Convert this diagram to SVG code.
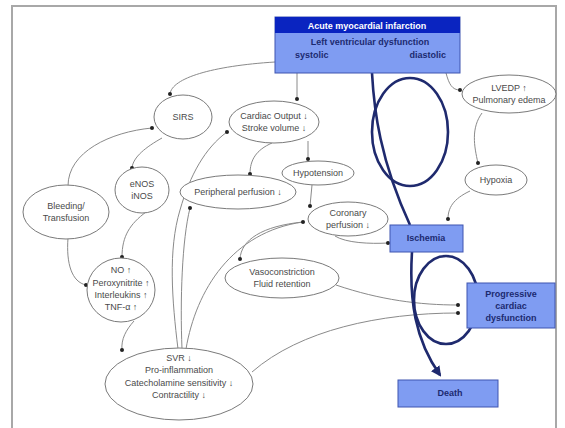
<svg xmlns="http://www.w3.org/2000/svg" width="565" height="428" viewBox="0 0 565 428">
  <style>
    .frame { fill: none; stroke: #a8a8a8; stroke-width: 2; }
    .node ellipse { fill: #ffffff; stroke: #7a7a7a; stroke-width: 1; }
    .node text { font-family: "Liberation Sans", Arial, sans-serif; font-size: 9px; fill: #4a4a4a; text-anchor: middle; }
    .box rect { fill: #7f9cf2; stroke: #3f55b0; stroke-width: 1; }
    .box text { font-family: "Liberation Sans", Arial, sans-serif; font-size: 9px; font-weight: bold; fill: #1c2a70; text-anchor: middle; }
    .box rect.header { fill: #0a24c0; stroke: none; }
    .box text.title { fill: #ffffff; }
    .box text.left { text-anchor: start; }
    .box text.right { text-anchor: end; }
    .link { fill: none; stroke: #8a8a8a; stroke-width: 1; }
    .dot { fill: #222; }
    .flow { fill: none; stroke: #1f2a6e; stroke-width: 2.6; }
  </style>
  <defs>
    <marker id="navyArrow" viewBox="0 0 10 10" refX="8" refY="5" markerWidth="4" markerHeight="4" orient="auto">
      <path d="M0,0 L10,5 L0,10 z" fill="#1f2a6e"/>
    </marker>
  </defs>

  <rect width="565" height="428" fill="#ffffff"/>
  <rect class="frame" x="12" y="6" width="544" height="430"/>

  <!-- thin grey connectors with dot ends -->
  <g id="connectors">
    <path class="link" d="M275,62 C212,66 172,78 170,94"/>
    <path class="link" d="M297,73 L297,99"/>
    <path class="link" d="M446,73 C449,84 452,90 460,90"/>
    <path class="link" d="M482,113 C471,128 474,146 478,163"/>
    <path class="link" d="M470,191 C453,199 448,208 448,219"/>
    <path class="link" d="M68,186 C68,152 110,132 152,128"/>
    <path class="link" d="M162,138 C146,147 133,157 132,168"/>
    <path class="link" d="M68,238 C66,264 72,282 86,285"/>
    <path class="link" d="M146,212 C130,224 122,236 122,257"/>
    <path class="link" d="M134,321 C126,330 121,339 122,350"/>
    <path class="link" d="M178,349 C172,300 168,250 180,210 C190,175 205,148 227,132"/>
    <path class="link" d="M182,349 C180,300 182,240 190,208"/>
    <path class="link" d="M186,349 C196,290 232,232 303,222"/>
    <path class="link" d="M272,143 C256,150 250,160 250,174"/>
    <path class="link" d="M308,141 L308,159"/>
    <path class="link" d="M312,185 L310,206"/>
    <path class="link" d="M303,222 C262,226 241,240 240,259"/>
    <path class="link" d="M335,236 C346,243 370,244 388,243"/>
    <path class="link" d="M336,285 C380,300 420,305 458,305"/>
    <path class="link" d="M252,372 C300,330 380,313 458,313"/>

    <g class="dots">
      <circle class="dot" cx="170" cy="94" r="2"/>
      <circle class="dot" cx="297" cy="99" r="2"/>
      <circle class="dot" cx="460" cy="90" r="2"/>
      <circle class="dot" cx="478" cy="163" r="2"/>
      <circle class="dot" cx="448" cy="219" r="2"/>
      <circle class="dot" cx="152" cy="128" r="2"/>
      <circle class="dot" cx="132" cy="168" r="2"/>
      <circle class="dot" cx="86" cy="285" r="2"/>
      <circle class="dot" cx="122" cy="257" r="2"/>
      <circle class="dot" cx="122" cy="350" r="2"/>
      <circle class="dot" cx="227" cy="132" r="2"/>
      <circle class="dot" cx="190" cy="208" r="2"/>
      <circle class="dot" cx="303" cy="222" r="2"/>
      <circle class="dot" cx="250" cy="174" r="2"/>
      <circle class="dot" cx="308" cy="159" r="2"/>
      <circle class="dot" cx="310" cy="206" r="2"/>
      <circle class="dot" cx="240" cy="259" r="2"/>
      <circle class="dot" cx="388" cy="243" r="2"/>
      <circle class="dot" cx="458" cy="305" r="2"/>
      <circle class="dot" cx="458" cy="313" r="2"/>
    </g>
  </g>

  <!-- oval nodes -->
  <g id="sirs" class="node">
    <ellipse cx="183" cy="117" rx="29" ry="22"/>
    <text x="183" y="120">SIRS</text>
  </g>
  <g id="cardiac-output" class="node">
    <ellipse cx="274" cy="122" rx="45" ry="21"/>
    <text x="274" y="119">Cardiac Output ↓</text>
    <text x="274" y="131">Stroke volume ↓</text>
  </g>
  <g id="hypotension" class="node">
    <ellipse cx="318" cy="173" rx="36" ry="12"/>
    <text x="318" y="176">Hypotension</text>
  </g>
  <g id="peripheral-perfusion" class="node">
    <ellipse cx="238" cy="192" rx="58" ry="17"/>
    <text x="238" y="195">Peripheral perfusion ↓</text>
  </g>
  <g id="coronary-perfusion" class="node">
    <ellipse cx="348" cy="219" rx="40" ry="17"/>
    <text x="348" y="216">Coronary</text>
    <text x="348" y="228">perfusion ↓</text>
  </g>
  <g id="vasoconstriction" class="node">
    <ellipse cx="282" cy="278" rx="57" ry="20"/>
    <text x="282" y="275">Vasoconstriction</text>
    <text x="282" y="287">Fluid retention</text>
  </g>
  <g id="nos" class="node">
    <ellipse cx="142" cy="190" rx="27" ry="23"/>
    <text x="142" y="187">eNOS</text>
    <text x="142" y="199">iNOS</text>
  </g>
  <g id="bleeding" class="node">
    <ellipse cx="66" cy="212" rx="43" ry="27"/>
    <text x="66" y="209">Bleeding/</text>
    <text x="66" y="221">Transfusion</text>
  </g>
  <g id="mediators" class="node">
    <ellipse cx="121" cy="290" rx="34" ry="32"/>
    <text x="121" y="273">NO ↑</text>
    <text x="121" y="286">Peroxynitrite ↑</text>
    <text x="121" y="298">Interleukins ↑</text>
    <text x="121" y="310">TNF-α ↑</text>
  </g>
  <g id="svr" class="node">
    <ellipse cx="179" cy="384" rx="74" ry="36"/>
    <text x="179" y="361">SVR ↓</text>
    <text x="179" y="373">Pro-inflammation</text>
    <text x="179" y="386">Catecholamine sensitivity ↓</text>
    <text x="179" y="398">Contractility ↓</text>
  </g>
  <g id="lvedp" class="node">
    <ellipse cx="509" cy="94" rx="47" ry="19"/>
    <text x="509" y="91">LVEDP ↑</text>
    <text x="509" y="103">Pulmonary edema</text>
  </g>
  <g id="hypoxia" class="node">
    <ellipse cx="496" cy="180" rx="31" ry="15"/>
    <text x="496" y="183">Hypoxia</text>
  </g>

  <!-- heavy navy spiral of the downward course -->
  <g id="spiral">
    <path class="flow" d="M372,73 C374,110 380,160 410,225"/>
    <ellipse class="flow" cx="410" cy="132" rx="38" ry="54"/>
    <ellipse class="flow" cx="446" cy="300" rx="32" ry="44"/>
    <path class="flow" d="M412,252 C409,300 415,340 440,375" marker-end="url(#navyArrow)"/>
  </g>

  <!-- blue boxes -->
  <g id="ami" class="box">
    <rect x="275" y="17" width="185" height="56"/>
    <rect class="header" x="275" y="17" width="185" height="16"/>
    <text class="title" x="367" y="29">Acute myocardial  infarction</text>
    <text x="370" y="45">Left ventricular dysfunction</text>
    <text class="left" x="295" y="58">systolic</text>
    <text class="right" x="446" y="58">diastolic</text>
  </g>
  <g id="ischemia" class="box">
    <rect x="390" y="225" width="73" height="27"/>
    <text x="426" y="241">Ischemia</text>
  </g>
  <g id="progressive" class="box">
    <rect x="467" y="283" width="88" height="45"/>
    <text x="511" y="297">Progressive</text>
    <text x="511" y="309">cardiac</text>
    <text x="511" y="321">dysfunction</text>
  </g>
  <g id="death" class="box">
    <rect x="398" y="380" width="100" height="27"/>
    <text x="450" y="396">Death</text>
  </g>
</svg>
